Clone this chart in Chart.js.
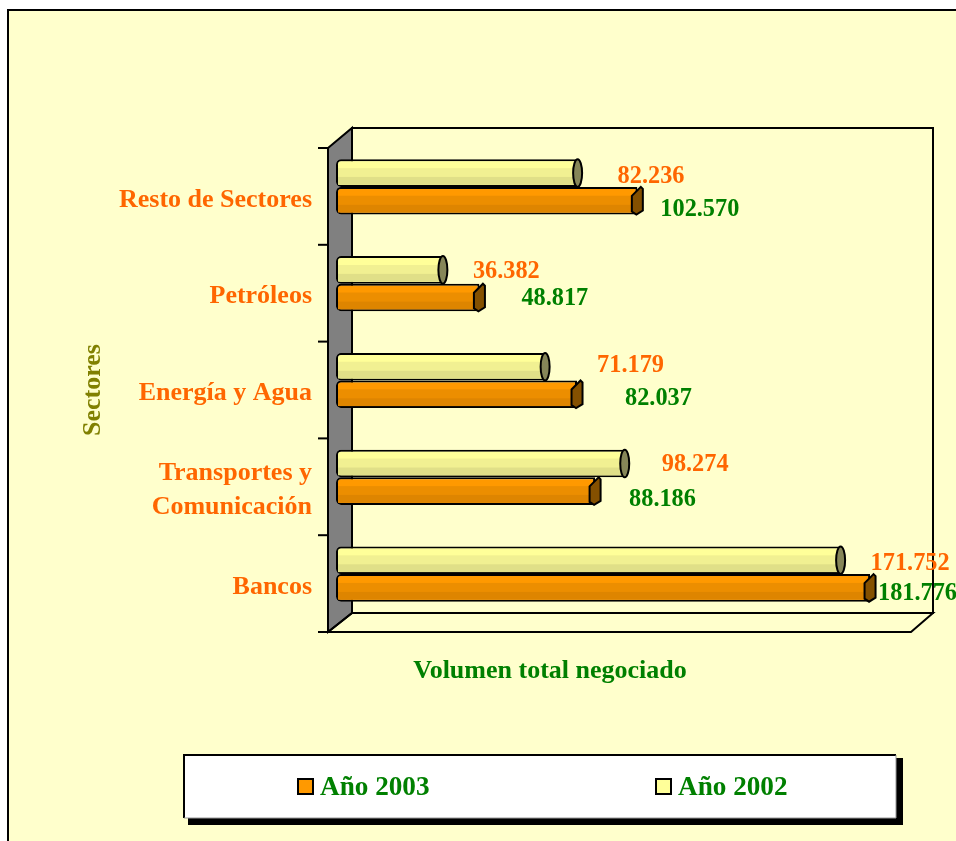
<!DOCTYPE html>
<html>
<head>
<meta charset="utf-8" />
<title>Volumen total negociado</title>
<script src="https://cdn.jsdelivr.net/npm/chart.js@4"></script>
<style>
  html, body { margin: 0; padding: 0; background: #fff; overflow: hidden; }
  #wrap { width: 956px; height: 841px; }
</style>
<script>
// datos, de arriba a abajo
const sectores = ["Resto de Sectores", "Petróleos", "Energía y Agua", ["Transportes y", "Comunicación"], "Bancos"];
const anio2002 = [82236, 36382, 71179, 98274, 171752];
const anio2003 = [102570, 48817, 82037, 88186, 181776];
const nombre2002 = "Año 2002";
const nombre2003 = "Año 2003";
const tituloX = "Volumen total negociado";
const tituloY = "Sectores";
</script>
</head>
<body>
<div id="wrap"><canvas id="joonis"></canvas></div>
<script>
const SERIF = '"Liberation Serif", "Times New Roman", serif';
const NARANJA = "#FF6600", VERDE = "#008000", OLIVA = "#808000";

// desplazamiento de cada etiqueta respecto al final de la barra [dx, dy]
const despl2002 = [[40, 4], [30, 2], [52, -1], [37, 1], [30, 3]];
const despl2003 = [[23, 9], [42, 1], [48, 4], [34, 9], [8, 6]];

function linea(ctx, puntos, cerrar) {
  ctx.beginPath();
  puntos.forEach((p, i) => i ? ctx.lineTo(p[0], p[1]) : ctx.moveTo(p[0], p[1]));
  if (cerrar) ctx.closePath();
}

function miles(v) {
  return String(v).replace(/\B(?=(\d{3})+$)/g, ".");
}

const decorado = {
  id: "decorado",
  beforeDraw(chart) {
    const ctx = chart.ctx, a = chart.chartArea;
    ctx.save();
    // fondo y marco exterior
    ctx.fillStyle = "#fff";
    ctx.fillRect(0, 0, chart.width, chart.height);
    ctx.fillStyle = "#FFFFCC";
    ctx.fillRect(8, 10, chart.width, chart.height);
    ctx.strokeStyle = "#000";
    ctx.lineWidth = 2;
    linea(ctx, [[8, chart.height + 2], [8, 10], [chart.width + 2, 10]]);
    ctx.stroke();

    // caja 3D: pared del fondo, pared izquierda y suelo
    const fx = a.left - 8, fy = a.bottom + 9.5;
    const bx = a.left + 16, by = a.bottom - 9.5;
    const top = a.top - 10.5, der = a.right + 9.4, derF = a.right - 12.6;
    ctx.lineWidth = 2;
    ctx.strokeRect(bx, top, der - bx, by - top);
    linea(ctx, [[fx, a.top + 9.5], [bx, top], [bx, by], [fx, fy]], true);
    ctx.fillStyle = "#808080";
    ctx.fill();
    ctx.stroke();
    linea(ctx, [[fx, fy], [bx, by], [der, by], [derF, fy]], true);
    ctx.stroke();

    // marcas del eje
    const y = chart.scales.y;
    sectores.concat([""]).forEach((s, i) => {
      const py = y.getPixelForValue(i - 0.5) + 9.5;
      linea(ctx, [[fx - 10, py], [fx, py]]);
      ctx.stroke();
    });
    ctx.restore();
  },
  afterDatasetsDraw(chart) {
    const ctx = chart.ctx;
    ctx.save();
    chart.data.datasets.forEach((ds, i) => {
      chart.getDatasetMeta(i).data.forEach(bar => {
        const h = bar.height, t = bar.y - h / 2, izq = bar.base;
        // bandas del cilindro, sin tapar el borde de la barra
        ctx.fillStyle = ds.bandas[0];
        ctx.fillRect(izq + 2, t + h * 0.32, bar.x - izq - 2, h * 0.32);
        ctx.fillStyle = ds.bandas[1];
        ctx.fillRect(izq + 2, t + h * 0.64, bar.x - izq - 2, h * 0.36 - 2);
        // tapa del extremo
        ctx.fillStyle = ds.tapa;
        ctx.strokeStyle = "#000";
        ctx.lineWidth = 2;
        if (i === 0) {
          ctx.beginPath();
          ctx.ellipse(bar.x, bar.y, 4.5, h / 2, 0, 0, Math.PI * 2);
        } else {
          linea(ctx, [[bar.x + 3.5, t], [bar.x + 5.5, t + 2], [bar.x + 5.5, t + h - 4], [bar.x - 1, t + h], [bar.x - 5.5, t + h - 3], [bar.x - 5.5, t + 9]], true);
        }
        ctx.fill();
        ctx.stroke();
      });
    });
    ctx.restore();
  },
  afterDraw(chart) {
    const ctx = chart.ctx;
    ctx.save();
    ctx.textBaseline = "middle";
    // valores
    ctx.font = "bold 24.3px " + SERIF;
    ctx.textAlign = "left";
    chart.data.datasets.forEach((ds, i) => {
      const despl = i === 0 ? despl2002 : despl2003;
      ctx.fillStyle = i === 0 ? NARANJA : VERDE;
      chart.getDatasetMeta(i).data.forEach((bar, j) => {
        ctx.fillText(miles(ds.data[j]), bar.x + despl[j][0], bar.y + despl[j][1]);
      });
    });
    // titulos de los ejes
    ctx.font = "bold 26px " + SERIF;
    ctx.textAlign = "center";
    ctx.fillStyle = VERDE;
    ctx.fillText(tituloX, 550, 671);
    ctx.save();
    ctx.translate(93, 390);
    ctx.rotate(-Math.PI / 2);
    ctx.fillStyle = OLIVA;
    ctx.fillText(tituloY, 0, 0);
    ctx.restore();

    // leyenda
    ctx.fillStyle = "#000";
    ctx.fillRect(188, 758, 715, 67);
    ctx.fillStyle = "#fff";
    ctx.fillRect(184, 755, 712, 63);
    ctx.strokeStyle = "#000";
    ctx.lineWidth = 2;
    linea(ctx, [[184, 818], [184, 755], [896, 755]]);
    ctx.stroke();
    ctx.strokeStyle = "#999";
    ctx.lineWidth = 1;
    linea(ctx, [[896, 755], [896, 818], [184, 818]]);
    ctx.stroke();

    const items = [[chart.data.datasets[1], 298], [chart.data.datasets[0], 656]];
    ctx.font = "bold 27.2px " + SERIF;
    ctx.textAlign = "left";
    items.forEach(it => {
      ctx.fillStyle = it[0].backgroundColor;
      ctx.strokeStyle = "#000";
      ctx.lineWidth = 2;
      ctx.fillRect(it[1], 779, 15, 15);
      ctx.strokeRect(it[1], 779, 15, 15);
      ctx.fillStyle = VERDE;
      ctx.fillText(it[0].label, it[1] + 22, 788);
    });
    ctx.restore();
  }
};

Chart.defaults.font.family = SERIF;

const comun = {
  borderColor: "#000",
  borderWidth: 2,
  borderSkipped: false,
  borderRadius: { topLeft: 5, bottomLeft: 5, topRight: 0, bottomRight: 0 },
  categoryPercentage: 0.57,
  barPercentage: 1
};

new Chart(document.getElementById("joonis"), {
  type: "bar",
  plugins: [decorado],
  data: {
    labels: sectores,
    datasets: [
      Object.assign({ label: nombre2002, data: anio2002, backgroundColor: "#FFFF99",
        bandas: ["#F1F092", "#E0DF88"], tapa: "#868658" }, comun),
      Object.assign({ label: nombre2003, data: anio2003, backgroundColor: "#FF9900",
        bandas: ["#EC8E00", "#DE8500"], tapa: "#845000" }, comun)
    ]
  },
  options: {
    indexAxis: "y",
    responsive: true,
    maintainAspectRatio: false,
    animation: false,
    layout: { padding: { left: 0, top: 138.5, right: 32.4, bottom: 218.5 } },
    plugins: { legend: { display: false }, tooltip: { enabled: false } },
    scales: {
      x: { display: false, min: 0, max: 200000 },
      y: {
        afterFit(scale) { scale.width = 336; },
        border: { display: false },
        grid: { display: false, drawTicks: false },
        ticks: {
          autoSkip: false,
          padding: 24,
          labelOffset: 13,
          color: NARANJA,
          font: { family: SERIF, size: 26, weight: "bold", lineHeight: 1.3 }
        }
      }
    }
  }
});
</script>
</body>
</html>
